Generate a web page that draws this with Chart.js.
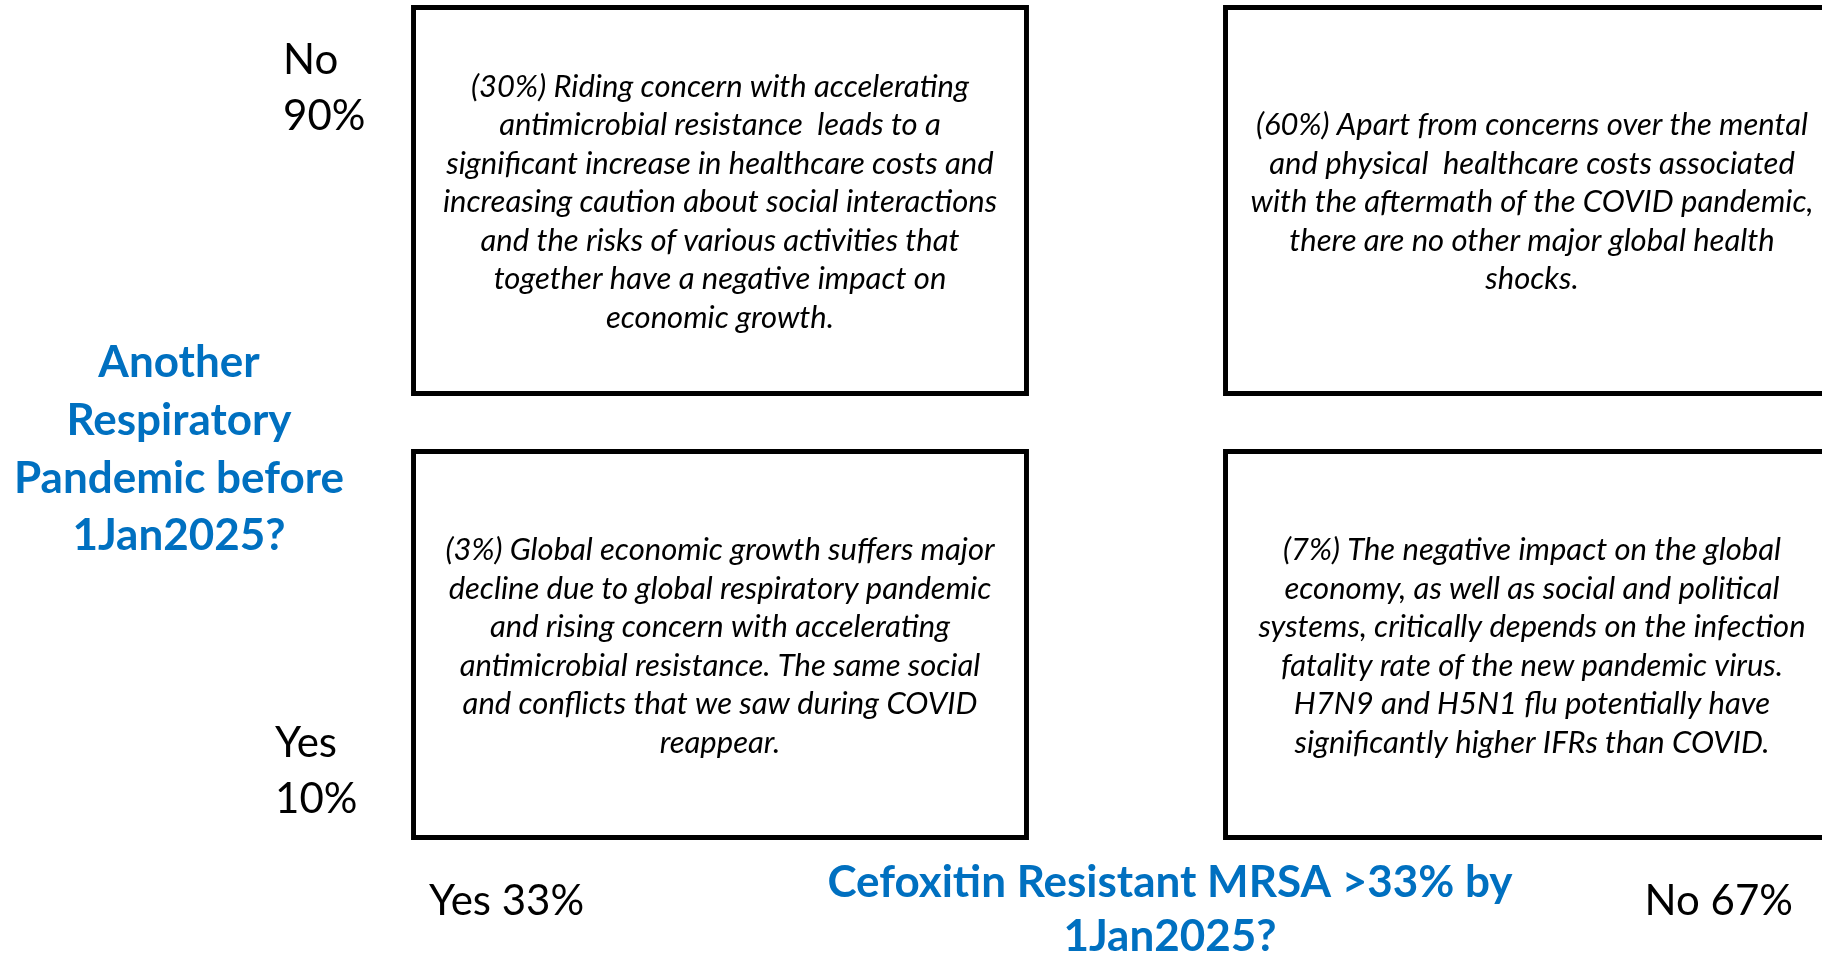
<!DOCTYPE html>
<html>
<head>
<meta charset="utf-8">
<script src="https://cdn.jsdelivr.net/npm/chart.js@4.4.0/dist/chart.umd.min.js"></script>
<style>
  html, body { margin: 0; padding: 0; background: #fff; overflow: hidden; }
  #wrap { position: absolute; left: 0; top: 0; width: 1960px; height: 953px; }
</style>
</head>
<body>
<div id="wrap"><canvas id="matrix" width="1960" height="953"></canvas></div>
<script>
// axis categories (columns = MRSA question, rows = pandemic question)
const colLabels = ['Yes 33%', 'No 67%'];
const rowLabels = [['No', '90%'], ['Yes', '10%']];
const rowTitle = ['Another', 'Respiratory', 'Pandemic before', '1Jan2025?'];
const colTitle = ['Cefoxitin Resistant MRSA >33% by', '1Jan2025?'];

// joint probabilities of each scenario, [row][col]
const cellProb = [[30, 60], [3, 7]];

// scenario descriptions, broken as in the original slide
const cellText = [
  [
    ['Riding concern with accelerating', 'antimicrobial resistance  leads to a', 'significant increase in healthcare costs and',
     'increasing caution about social interactions', 'and the risks of various activities that',
     'together have a negative impact on', 'economic growth.'],
    ['Apart from concerns over the mental', 'and physical  healthcare costs associated',
     'with the aftermath of the COVID pandemic,', 'there are no other major global health', 'shocks.']
  ],
  [
    ['Global economic growth suffers major', 'decline due to global respiratory pandemic',
     'and rising concern with accelerating', 'antimicrobial resistance. The same social',
     'and conflicts that we saw during COVID', 'reappear.'],
    ['The negative impact on the global', 'economy, as well as social and political',
     'systems, critically depends on the infection', 'fatality rate of the new pandemic virus.',
     'H7N9 and H5N1 flu potentially have', 'significantly higher IFRs than COVID.']
  ]
];

const BLUE = '#0070C0';
const FONT = 'Lato, "Open Sans", sans-serif';

// each row occupies its half of the y range, leaving a gap between them
const rowSpan = [[1.0635, 2], [0, 0.9365]];

const datasets = rowLabels.map((r, i) => ({
  label: r.join(' '),
  data: colLabels.map(() => rowSpan[i]),
  backgroundColor: '#fff',
  borderColor: '#000',
  borderWidth: 5,
  borderSkipped: false,
  grouped: false,
  categoryPercentage: 1,
  barPercentage: 0.761
}));

const labelsPlugin = {
  id: 'matrixLabels',
  afterDatasetsDraw(chart) {
    const ctx = chart.ctx;
    ctx.save();
    ctx.textBaseline = 'middle';

    // scenario text in every box
    ctx.fillStyle = '#000';
    ctx.font = 'italic 31px ' + FONT;
    ctx.textAlign = 'center';
    chart.data.datasets.forEach((ds, r) => {
      chart.getDatasetMeta(r).data.forEach((bar, c) => {
        const lines = cellText[r][c].slice();
        lines[0] = '(' + cellProb[r][c] + '%) ' + lines[0];
        const cy = (bar.y + bar.base) / 2 + 2;
        const lh = 38.5;
        lines.forEach((t, k) => {
          ctx.fillText(t, bar.x, cy + (k - (lines.length - 1) / 2) * lh);
        });
      });
    });

    // row labels at the outer corners of the left column
    const left = chart.getDatasetMeta(0).data[0];
    const leftEdge = left.x - left.width / 2;
    ctx.font = '42px ' + FONT;
    ctx.textAlign = 'left';
    const top = chart.getDatasetMeta(0).data[0];
    const bot = chart.getDatasetMeta(1).data[0];
    ctx.fillText(rowLabels[0][0], leftEdge - 128, top.y + 55);
    ctx.fillText(rowLabels[0][1], leftEdge - 128, top.y + 111);
    ctx.fillText(rowLabels[1][0], leftEdge - 136, bot.base - 97);
    ctx.fillText(rowLabels[1][1], leftEdge - 136, bot.base - 41);

    // column labels under the boxes
    const bl = chart.getDatasetMeta(1).data[0];
    const br = chart.getDatasetMeta(1).data[1];
    const labY = bl.base + 61;
    ctx.fillText(colLabels[0], bl.x - bl.width / 2 + 18, labY);
    ctx.textAlign = 'right';
    ctx.fillText(colLabels[1], br.x + br.width / 2 - 48, labY);

    // question titles
    ctx.fillStyle = BLUE;
    ctx.font = 'bold 44px ' + FONT;
    ctx.textAlign = 'center';
    rowTitle.forEach((t, k) => ctx.fillText(t, 179, 363 + k * 57.7));
    colTitle.forEach((t, k) => ctx.fillText(t, 1170, 883 + k * 54));

    ctx.restore();
  }
};

new Chart(document.getElementById('matrix').getContext('2d'), {
  type: 'bar',
  data: { labels: colLabels, datasets: datasets },
  options: {
    responsive: false,
    animation: false,
    layout: { padding: { left: 314, right: 22, top: 5, bottom: 113 } },
    plugins: { legend: { display: false }, tooltip: { enabled: false } },
    scales: {
      x: { display: false },
      y: { display: false, min: 0, max: 2 }
    }
  },
  plugins: [labelsPlugin]
});
</script>
</body>
</html>
